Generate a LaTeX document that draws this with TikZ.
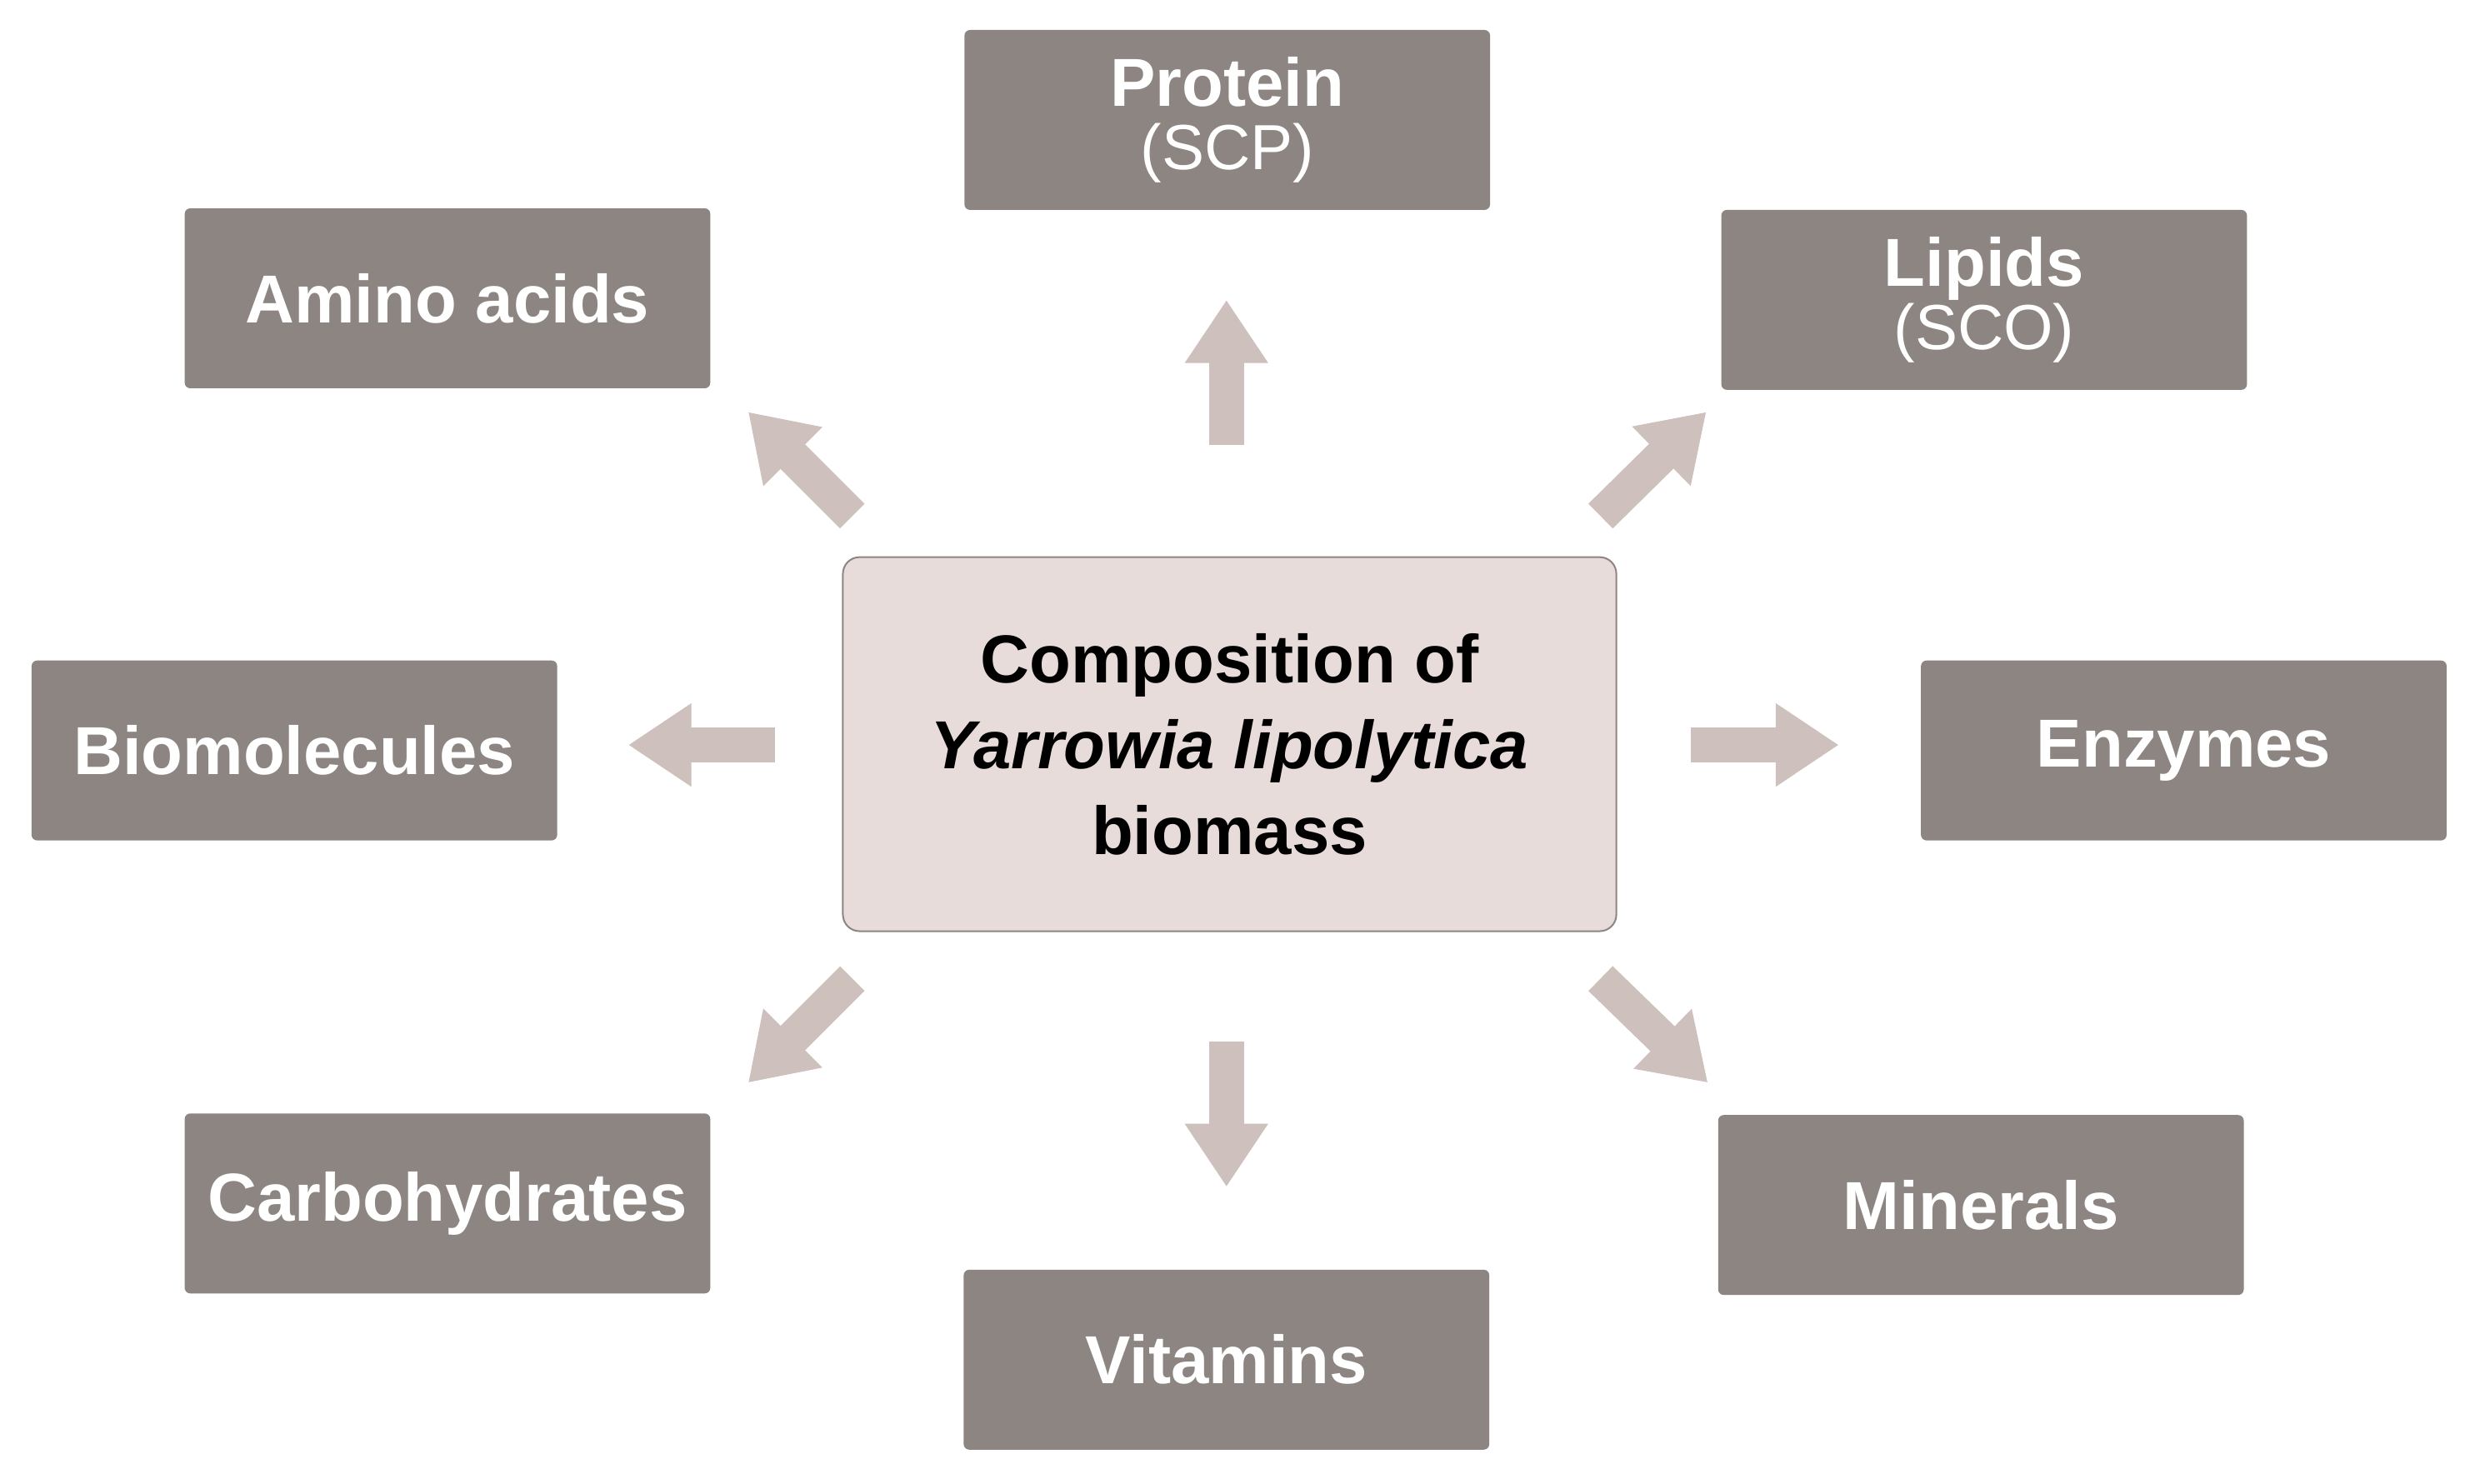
\documentclass[tikz,border=0pt]{standalone}
\usepackage{fontspec}
\setmainfont{Liberation Sans}
\usetikzlibrary{arrows.meta}
\definecolor{boxg}{HTML}{8C8581}
\definecolor{ctrf}{HTML}{E8DCDA}
\definecolor{arr}{HTML}{CEC0BC}
\newcommand{\subtxt}[1]{{\fontsize{23}{25}\selectfont\mdseries #1}}
\begin{document}
\begin{tikzpicture}[x=0.02cm,y=-0.02cm,
  box/.style={fill=boxg,draw=none,rounded corners=2pt,minimum width=333*0.02cm,minimum height=114*0.02cm,
    text=white,font=\fontsize{24.5}{27}\selectfont\bfseries,align=center,inner sep=0pt},
  bar/.style={draw=arr,line width=0.44cm,-{Triangle[width=1.0cm,length=0.8cm]}}]
\useasboundingbox (0,0) rectangle (1568,940);
\node[box] (prot) at (777.5,76) {Protein\\[-4pt]\subtxt{(SCP)}};
\node[box] (amino) at (283.5,189) {Amino acids};
\node[box] (lip) at (1257,190) {Lipids\\[-4pt]\subtxt{(SCO)}};
\node[box] (bio) at (186.5,475.5) {Biomolecules};
\node[box] (enz) at (1383.5,475.5) {Enzymes};
\node[box] (carb) at (283.5,762.5) {Carbohydrates};
\node[box] (vit) at (777,861.5) {Vitamins};
\node[box] (min) at (1255,763.5) {Minerals};
\node[fill=ctrf,draw=boxg,line width=0.6pt,rounded corners=6pt,minimum width=490*0.02cm,minimum height=237*0.02cm,
  align=center,font=\fontsize{24.5}{31}\selectfont\bfseries,inner sep=0pt] (ctr) at (779,471.5)
  {Composition of\\\textit{Yarrowia lipolytica}\\biomass};
\coordinate (u1) at (777,282); \coordinate (u2) at (777,190);
\coordinate (d1) at (777,660); \coordinate (d2) at (777,752);
\coordinate (l1) at (491,472); \coordinate (l2) at (398,472);
\coordinate (r1) at (1071,472); \coordinate (r2) at (1165,472);
\coordinate (ul1) at (540,327); \coordinate (ul2) at (474,261);
\coordinate (ur1) at (1014,327); \coordinate (ur2) at (1081,261);
\coordinate (dl1) at (540,620); \coordinate (dl2) at (474,686);
\coordinate (dr1) at (1014,620); \coordinate (dr2) at (1082,686);
\foreach \a/\b in {u1/u2,d1/d2,l1/l2,r1/r2,ul1/ul2,ur1/ur2,dl1/dl2,dr1/dr2}
  \draw[bar] (\a) -- (\b);
\end{tikzpicture}
\end{document}
